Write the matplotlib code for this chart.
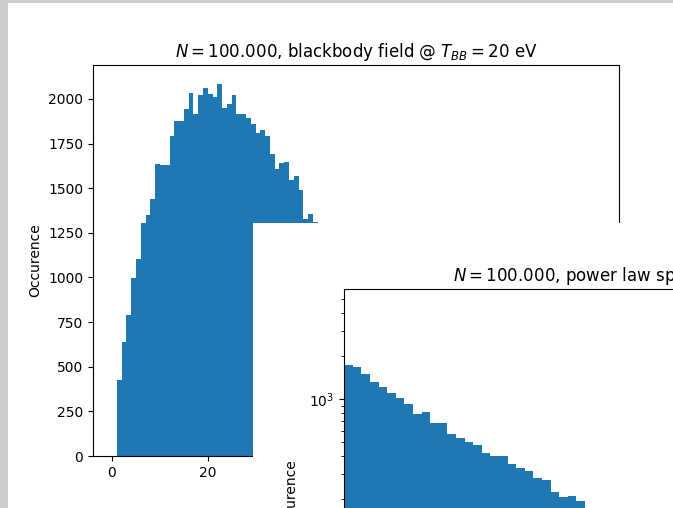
import matplotlib.pyplot as plt
import numpy as np
from matplotlib.patches import Rectangle

# Blackbody photon energies, 100 bins of counts
bb_edges_range = (1.1, 100.5)
bb_counts = [428, 641, 790, 998, 1104, 1306, 1352, 1440, 1635, 1630,
             1630, 1790, 1879, 1879, 1942, 2032, 1916, 2021, 2064, 2026,
             2011, 2086, 1950, 1970, 2021, 1916, 1916, 1892, 1862, 1808,
             1825, 1790, 1689, 1607, 1641, 1648, 1544, 1566, 1490, 1328,
             1356, 1309, 1290, 1255, 1230, 1180, 1150, 1120, 1070, 1040,
             1000, 960, 930, 890, 860, 820, 790, 760, 720, 690,
             660, 630, 600, 575, 545, 520, 495, 470, 450, 425,
             405, 385, 365, 345, 330, 310, 295, 280, 265, 250,
             236, 224, 212, 200, 188, 178, 168, 158, 150, 141,
             133, 125, 118, 111, 105, 99, 93, 87, 82, 77]

# Power law sample, 58 bins of counts
pl_edges_range = (1.0, 59.0)
pl_counts = [1729, 1666, 1489, 1309, 1219, 1107, 1016, 923, 786, 811,
             676, 676, 566, 534, 503, 479, 421, 397, 397, 349,
             331, 314, 282, 272, 223, 205, 210, 194, 165, 158,
             150, 143, 136, 130, 124, 118, 112, 107, 102, 97,
             92, 88, 84, 80, 76, 72, 69, 66, 63, 60,
             57, 54, 52, 49, 47, 45, 43, 41]

W, H = 673, 508


def px(x0, y0, x1, y1):
    # pixel box (top-left origin) -> figure fraction rect
    return [x0 / W, 1 - y1 / H, (x1 - x0) / W, (y1 - y0) / H]


fig = plt.figure(figsize=(W / 100, H / 100), dpi=100, facecolor='#cccccc')
fig.patches.append(Rectangle((8 / W, 0), 1, 1 - 3 / H, transform=fig.transFigure,
                             facecolor='white', edgecolor='none', zorder=-1))

# first window
ax1 = fig.add_axes(px(93, 65, 619, 456), zorder=1)
bb_edges = np.linspace(*bb_edges_range, len(bb_counts) + 1)
bb_centers = 0.5 * (bb_edges[:-1] + bb_edges[1:])
ax1.hist(bb_centers, bins=bb_edges, weights=bb_counts)
ax1.set_ylabel('Occurence')
ax1.set_title('$N = 100.000$, blackbody field @ $T_{BB} = 20$ eV')

# second window on top
win2 = fig.add_axes(px(253, 222.7, 700, 560), zorder=2)
win2.set_facecolor('white')
win2.set_xticks([])
win2.set_yticks([])
for s in win2.spines.values():
    s.set_visible(False)

ax2 = fig.add_axes(px(344.3, 289.3, 843, 703.7), zorder=3)
pl_edges = np.linspace(*pl_edges_range, len(pl_counts) + 1)
pl_centers = 0.5 * (pl_edges[:-1] + pl_edges[1:])
ax2.hist(pl_centers, bins=pl_edges, weights=pl_counts, log=True)
ax2.set_xlim(pl_edges[0], pl_edges[-1])
ax2.set_ylim(7.4, 5850)
ax2.set_ylabel('Occurence', labelpad=8)
ax2.set_title('$N = 100.000$, power law spectrum')

fig.savefig('out.png', dpi=100, facecolor=fig.get_facecolor())
